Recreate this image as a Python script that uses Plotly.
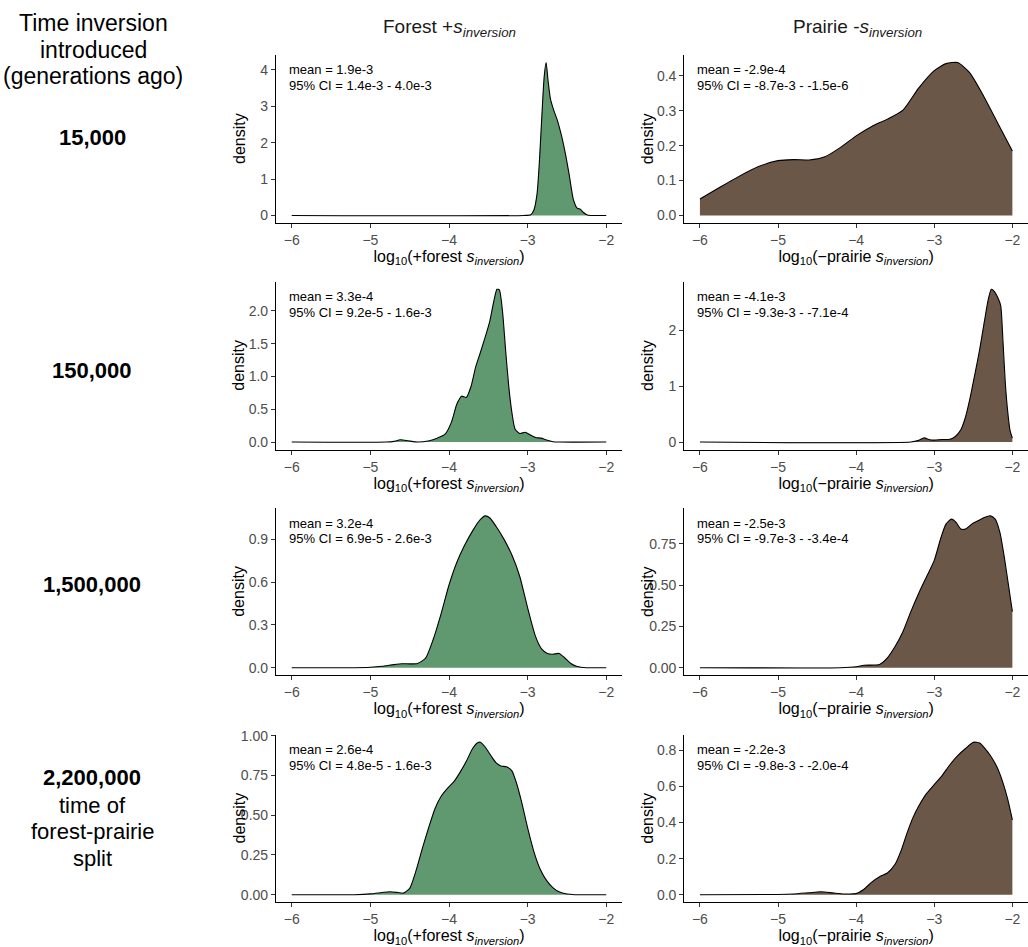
import plotly.graph_objects as go

# ---------------------------------------------------------------------------
# Density curves of log10(selection coefficient) for each introduction time
# ---------------------------------------------------------------------------
times = ["15,000", "150,000", "1,500,000", "2,200,000"]

# Forest +s_inversion
forest_x1 = [-6, -3.05, -2.96, -2.92, -2.88, -2.85, -2.82, -2.79, -2.765, -2.74, -2.71, -2.67,
             -2.62, -2.57, -2.52, -2.47, -2.42, -2.37, -2.33, -2.29, -2.24, -2.2, -2.0]
forest_y1 = [0, 0, 0.02, 0.15, 0.6, 1.5, 2.7, 3.8, 4.2, 3.7, 3.2, 2.9,
             2.6, 2.2, 1.7, 1.1, 0.45, 0.2, 0.17, 0.08, 0.01, 0, 0]

forest_x2 = [-6, -4.8, -4.7, -4.62, -4.52, -4.4, -4.25, -4.15, -4.05, -3.97, -3.9, -3.84, -3.78,
             -3.72, -3.66, -3.6, -3.54, -3.48, -3.43, -3.39, -3.36, -3.32, -3.28, -3.24, -3.2,
             -3.16, -3.1, -3.03, -2.97, -2.9, -2.83, -2.76, -2.68, -2.6, -2]
forest_y2 = [0, 0, 0.01, 0.035, 0.02, 0.0, 0.02, 0.06, 0.12, 0.3, 0.58, 0.7, 0.68,
             0.85, 1.15, 1.37, 1.6, 1.85, 2.15, 2.33, 2.32, 2.0, 1.4, 0.85, 0.45,
             0.2, 0.13, 0.15, 0.11, 0.07, 0.06, 0.03, 0.005, 0, 0]

forest_x3 = [-6, -5.2, -5.0, -4.85, -4.7, -4.6, -4.5, -4.4, -4.3, -4.2, -4.1, -4.0, -3.9, -3.8,
             -3.7, -3.6, -3.54, -3.48, -3.4, -3.3, -3.2, -3.1, -3.0, -2.9, -2.82, -2.75, -2.68,
             -2.6, -2.53, -2.45, -2.37, -2.25, -2]
forest_y3 = [0, 0, 0.003, 0.01, 0.022, 0.028, 0.027, 0.03, 0.065, 0.2, 0.38, 0.58, 0.74, 0.86,
             0.96, 1.04, 1.065, 1.05, 0.99, 0.9, 0.79, 0.64, 0.42, 0.22, 0.13, 0.1, 0.095,
             0.1, 0.07, 0.03, 0.008, 0, 0]

forest_x4 = [-6, -5.2, -5.0, -4.85, -4.75, -4.65, -4.58, -4.5, -4.42, -4.34, -4.26, -4.18, -4.1,
             -4.02, -3.94, -3.86, -3.78, -3.7, -3.64, -3.6, -3.54, -3.46, -3.4, -3.34, -3.27,
             -3.2, -3.14, -3.08, -3.0, -2.92, -2.84, -2.76, -2.68, -2.6, -2.5, -2.4, -2]
forest_y4 = [0, 0, 0.005, 0.014, 0.019, 0.014, 0.01, 0.04, 0.15, 0.29, 0.42, 0.54, 0.62,
             0.67, 0.71, 0.77, 0.84, 0.92, 0.955, 0.96, 0.93, 0.87, 0.83, 0.81, 0.805,
             0.78, 0.7, 0.59, 0.42, 0.27, 0.16, 0.09, 0.045, 0.018, 0.004, 0, 0]

# Prairie -s_inversion
prairie_x1 = [-6, -5.75, -5.5, -5.25, -5.0, -4.8, -4.6, -4.4, -4.2, -4.0, -3.8, -3.6, -3.4,
              -3.2, -3.0, -2.85, -2.7, -2.55, -2.4, -2.2, -2.0]
prairie_y1 = [0.047, 0.08, 0.112, 0.14, 0.157, 0.16, 0.159, 0.168, 0.195, 0.228, 0.255, 0.276,
              0.302, 0.365, 0.415, 0.435, 0.438, 0.41, 0.355, 0.27, 0.185]

prairie_x2 = [-6, -3.3, -3.2, -3.13, -3.06, -3.0, -2.9, -2.8, -2.73, -2.66, -2.6, -2.54, -2.48,
              -2.42, -2.36, -2.31, -2.27, -2.23, -2.19, -2.15, -2.12, -2.09, -2.06, -2.03, -2.0]
prairie_y2 = [0, 0, 0.03, 0.075, 0.04, 0.035, 0.045, 0.05, 0.1, 0.22, 0.45, 0.8, 1.22,
              1.65, 2.15, 2.55, 2.74, 2.7, 2.6, 2.45, 1.8, 1.05, 0.55, 0.21, 0.07]

prairie_x3 = [-6, -4.2, -4.0, -3.9, -3.8, -3.7, -3.6, -3.5, -3.4, -3.3, -3.2, -3.1, -3.0, -2.92,
              -2.85, -2.78, -2.72, -2.66, -2.6, -2.52, -2.44, -2.36, -2.28, -2.22, -2.16, -2.1,
              -2.05, -2.0]
prairie_y3 = [0, 0, 0.006, 0.015, 0.016, 0.02, 0.06, 0.13, 0.22, 0.34, 0.45, 0.55, 0.65, 0.78,
              0.87, 0.9, 0.88, 0.84, 0.84, 0.87, 0.89, 0.91, 0.92, 0.9, 0.82, 0.66,
              0.5, 0.34]

prairie_x4 = [-6, -5.0, -4.8, -4.6, -4.45, -4.3, -4.15, -4.0, -3.9, -3.8, -3.7, -3.6, -3.5,
              -3.42, -3.35, -3.27, -3.2, -3.1, -3.0, -2.9, -2.8, -2.7, -2.6, -2.5, -2.42,
              -2.35, -2.28, -2.2, -2.12, -2.06, -2.0]
prairie_y4 = [0, 0.001, 0.004, 0.011, 0.016, 0.01, 0.004, 0.006, 0.03, 0.07, 0.1, 0.12, 0.17,
              0.25, 0.34, 0.43, 0.49, 0.56, 0.61, 0.66, 0.72, 0.77, 0.81, 0.845, 0.84,
              0.81, 0.77, 0.71, 0.62, 0.53, 0.415]

# Summary statistics printed in each panel
forest_mean = ["1.9e-3", "3.3e-4", "3.2e-4", "2.6e-4"]
forest_ci = ["1.4e-3 - 4.0e-3", "9.2e-5 - 1.6e-3", "6.9e-5 - 2.6e-3", "4.8e-5 - 1.6e-3"]
prairie_mean = ["-2.9e-4", "-4.1e-3", "-2.5e-3", "-2.2e-3"]
prairie_ci = ["-8.7e-3 - -1.5e-6", "-9.3e-3 - -7.1e-4", "-9.7e-3 - -3.4e-4", "-9.8e-3 - -2.0e-4"]

# Tick values and labels
x_ticks = [-6, -5, -4, -3, -2]
x_ticktext = ["\u22126", "\u22125", "\u22124", "\u22123", "\u22122"]
forest_yticks = [[0, 1, 2, 3, 4], [0, 0.5, 1.0, 1.5, 2.0], [0, 0.3, 0.6, 0.9],
                 [0, 0.25, 0.5, 0.75, 1.0]]
forest_yticktext = [["0", "1", "2", "3", "4"], ["0.0", "0.5", "1.0", "1.5", "2.0"],
                    ["0.0", "0.3", "0.6", "0.9"], ["0.00", "0.25", "0.50", "0.75", "1.00"]]
prairie_yticks = [[0, 0.1, 0.2, 0.3, 0.4], [0, 1, 2], [0, 0.25, 0.5, 0.75],
                  [0, 0.2, 0.4, 0.6, 0.8]]
prairie_yticktext = [["0.0", "0.1", "0.2", "0.3", "0.4"], ["0", "1", "2"],
                     ["0.00", "0.25", "0.50", "0.75"], ["0.0", "0.2", "0.4", "0.6", "0.8"]]

forest_x = [forest_x1, forest_x2, forest_x3, forest_x4]
forest_y = [forest_y1, forest_y2, forest_y3, forest_y4]
prairie_x = [prairie_x1, prairie_x2, prairie_x3, prairie_x4]
prairie_y = [prairie_y1, prairie_y2, prairie_y3, prairie_y4]

# ---------------------------------------------------------------------------
# Layout geometry (pixels)
# ---------------------------------------------------------------------------
W, H = 1028, 947
FONT = "Liberation Sans, Arial, Helvetica, sans-serif"
GREEN = "rgb(96,153,112)"
BROWN = "rgb(106,87,72)"

col_px = [(276.0, 622.0), (684.3, 1028.0)]
row_px = [(48.3, 217.7), (276.7, 446.0), (505.0, 673.3), (733.0, 902.0)]


def px_x(p):
    return p / W


def px_y(p):
    return (H - p) / H


fig = go.Figure()
annotations = []
layout_axes = {}

panels = []
for r in range(4):
    panels.append((r, 0, forest_x[r], forest_y[r], GREEN, forest_mean[r], forest_ci[r],
                   forest_yticks[r], forest_yticktext[r],
                   "log<sub>10</sub>(+forest <i>s</i><sub><i>inversion</i></sub>)"))
    panels.append((r, 1, prairie_x[r], prairie_y[r], BROWN, prairie_mean[r], prairie_ci[r],
                   prairie_yticks[r], prairie_yticktext[r],
                   "log<sub>10</sub>(\u2212prairie <i>s</i><sub><i>inversion</i></sub>)"))

for idx, (r, c, xs, ys, color, mean_txt, ci_txt, yt, ytt, xtitle) in enumerate(panels, start=1):
    suffix = "" if idx == 1 else str(idx)
    xname, yname = "xaxis" + suffix, "yaxis" + suffix
    left, right = col_px[c]
    top, bottom = row_px[r]
    ymax = max(ys)

    fig.add_trace(go.Scatter(
        x=xs, y=ys, mode="lines", fill="tozeroy", fillcolor=color,
        line=dict(color="black", width=1.1, shape="spline", smoothing=0.6),
        xaxis="x" + suffix, yaxis="y" + suffix, showlegend=False, hoverinfo="skip"))

    layout_axes[xname] = dict(
        domain=[px_x(left), min(px_x(right), 1.0)], range=[-6.2, -1.8],
        anchor="y" + suffix, tickvals=x_ticks, ticktext=x_ticktext,
        showline=True, linecolor="black", linewidth=1.2, mirror=False,
        ticks="outside", ticklen=4, tickwidth=1, tickcolor="#333333",
        showgrid=False, zeroline=False,
        tickfont=dict(family=FONT, size=14, color="#4D4D4D"),
        title=dict(text=xtitle, font=dict(family=FONT, size=16, color="black"), standoff=0),
        fixedrange=True)
    layout_axes[yname] = dict(
        domain=[px_y(bottom), px_y(top)], range=[-0.05 * ymax, 1.05 * ymax],
        anchor="x" + suffix, tickvals=yt, ticktext=ytt,
        showline=True, linecolor="black", linewidth=1.2,
        ticks="outside", ticklen=4, tickwidth=1, tickcolor="#333333",
        showgrid=False, zeroline=False,
        tickfont=dict(family=FONT, size=14, color="#4D4D4D"),
        fixedrange=True)

    # y-axis title, aligned across rows
    annotations.append(dict(
        text="density", xref="paper", yref="paper",
        x=px_x(left - 37), y=px_y((top + bottom) / 2), xanchor="center", yanchor="middle",
        textangle=-90, showarrow=False, font=dict(family=FONT, size=16, color="black")))

    # summary text in the top-left corner
    annotations.append(dict(
        text="mean = " + mean_txt, xref="paper", yref="paper",
        x=px_x(left + 10.5), y=px_y(top + 15), xanchor="left", yanchor="middle",
        showarrow=False, font=dict(family=FONT, size=13, color="black")))
    annotations.append(dict(
        text="95% CI = " + ci_txt, xref="paper", yref="paper",
        x=px_x(left + 10.5), y=px_y(top + 30.7), xanchor="left", yanchor="middle",
        showarrow=False, font=dict(family=FONT, size=13, color="black")))

# Column headers
col_titles = ["Forest +<i>s</i><sub><i>inversion</i></sub>",
              "Prairie -<i>s</i><sub><i>inversion</i></sub>"]
col_centers = [449, 857]
for t, cx in zip(col_titles, col_centers):
    annotations.append(dict(
        text=t, xref="paper", yref="paper", x=px_x(cx), y=px_y(21),
        xanchor="center", yanchor="middle", showarrow=False,
        font=dict(family=FONT, size=19, color="#1a1a1a")))

# Row header column
header_lines = ["Time inversion", "introduced", "(generations ago)"]
header_y = [16, 43, 70]
for t, yy in zip(header_lines, header_y):
    annotations.append(dict(
        text=t, xref="paper", yref="paper", x=px_x(93), y=px_y(yy),
        xanchor="center", yanchor="middle", showarrow=False,
        font=dict(family=FONT, size=23, color="black")))

row_label_y = [131, 366, 582, 776]
for t, yy in zip(times, row_label_y):
    annotations.append(dict(
        text="<b>" + t + "</b>", xref="paper", yref="paper", x=px_x(92), y=px_y(yy),
        xanchor="center", yanchor="middle", showarrow=False,
        font=dict(family=FONT, size=22, color="black")))

split_lines = ["time of", "forest-prairie", "split"]
split_y = [804, 831, 858]
for t, yy in zip(split_lines, split_y):
    annotations.append(dict(
        text=t, xref="paper", yref="paper", x=px_x(92), y=px_y(yy),
        xanchor="center", yanchor="middle", showarrow=False,
        font=dict(family=FONT, size=22, color="black")))

fig.update_layout(
    width=W, height=H,
    margin=dict(l=0, r=0, t=0, b=0),
    paper_bgcolor="white", plot_bgcolor="white",
    showlegend=False,
    annotations=annotations,
    **layout_axes)

fig.write_html("out.html")
